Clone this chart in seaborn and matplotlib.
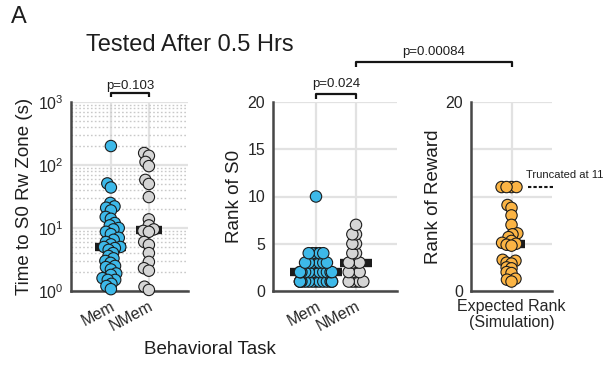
import numpy as np
import pandas as pd
import matplotlib
matplotlib.use("Agg")
import matplotlib.pyplot as plt
from matplotlib.lines import Line2D
from matplotlib.ticker import LogLocator, NullFormatter, FixedLocator
import seaborn as sns

# ---- data -------------------------------------------------------------
groups = ["Mem", "NMem"]

# latency to first entry into the S0 reward zone (s)
mem_time = [200, 51, 44, 25, 22, 21, 19, 15, 14, 12, 11, 10, 9.5, 8.7, 8.0,
            7.0, 6.5, 6.0, 5.5, 5.0, 5.0, 4.8, 4.5, 4.0, 3.6, 3.3, 3.0, 2.8,
            2.5, 2.4, 2.2, 1.9, 1.8, 1.6, 1.5, 1.5, 1.3, 1.2, 1.07]
nmem_time = [155, 140, 112, 96, 58, 50, 31, 13.7, 11, 9.5, 9.0, 8.7, 6.0,
             5.4, 4.0, 2.9, 2.3, 2.1, 1.17, 1.04]

# rank of the S0 zone among visited zones
mem_rank = [1, 1, 1, 1, 1, 1, 1, 1, 1, 1, 1, 1, 1, 1,
            2, 2, 2, 2, 2, 2, 2, 2, 2, 2, 2, 2,
            3, 3, 3, 3, 3, 3, 3,
            4, 4, 4, 4, 4,
            10]
nmem_rank = [1, 1, 1, 1, 1, 2, 2, 2, 2, 3, 3, 3, 3, 4, 4, 5, 5, 6, 6, 7]

# simulated expected rank of the reward zone (truncated at 11)
sim_label = "Expected Rank\n(Simulation)"
sim_rank = [11, 11, 11, 11, 9.1, 8.8, 8.0, 7.0, 6.1, 6.0, 5.7, 5.3, 5.1, 5.0,
            4.9, 4.8, 3.3, 3.2, 3.0, 2.9, 2.5, 2.4, 2.0, 1.9, 1.3, 1.2, 1.0]
trunc_value = 11

p_time = "p=0.103"
p_rank = "p=0.024"
p_sim = "p=0.00084"

# ---- style ------------------------------------------------------------
sns.set_style("white")
plt.rcParams["font.family"] = ["Liberation Sans", "DejaVu Sans"]
plt.rcParams["mathtext.fontset"] = "custom"
plt.rcParams["mathtext.rm"] = "Liberation Sans"
plt.rcParams["mathtext.it"] = "Liberation Sans:italic"
plt.rcParams["mathtext.bf"] = "Liberation Sans:bold"
plt.rcParams["text.color"] = "#1e1e1e"
plt.rcParams["axes.labelcolor"] = "#1e1e1e"

BLUE, GREY, ORANGE = "#3db9e9", "#d5d5d5", "#fbb444"
EDGE, EDGE_LW = "#1c1c1c", 0.8
MARK = 8.2           # drawn marker diameter (pt)
SPINE = "#474747"
GRID = "#e2e2e2"
TICK_FS = 11.5
LABEL_FS = 13.5
P_FS = 9.5

W, H = 608, 369
fig = plt.figure(figsize=(W / 100, H / 100), dpi=100)


def box(left, right, top=102, bottom=291):
    return [left / W, 1 - bottom / H, (right - left) / W, (bottom - top) / H]


ax1 = fig.add_axes(box(71, 188))
ax2 = fig.add_axes(box(273, 397))
ax3 = fig.add_axes(box(471, 552))

swarms = []


def swarm(ax, df, x, y, order, palette, layout_size):
    before = list(ax.collections)
    sns.swarmplot(data=df, x=x, y=y, order=order, hue=x, hue_order=order,
                  palette=palette, size=layout_size, linewidth=EDGE_LW,
                  edgecolor=EDGE, legend=False, ax=ax, zorder=3,
                  clip_on=False)
    swarms.extend(c for c in ax.collections if c not in before)


def median_bar(ax, pos, values, half):
    m = np.median(values)
    ax.plot([pos - half, pos + half], [m, m], color="#1c1c1c", lw=6,
            solid_capstyle="butt", zorder=2.8, clip_on=False)


def bracket(ax, x0, x1, y, leg, text, text_y):
    tr = ax.get_xaxis_transform()
    ax.plot([x0, x0, x1, x1], [y - leg, y, y, y - leg], transform=tr,
            clip_on=False, color="#151515", lw=1.6, solid_capstyle="butt")
    ax.text((x0 + x1) / 2, text_y, text, transform=tr, ha="center",
            va="baseline", fontsize=P_FS)


def style_axes(ax):
    for s in ("top", "right"):
        ax.spines[s].set_visible(False)
    for s in ("left", "bottom"):
        ax.spines[s].set_color(SPINE)
        ax.spines[s].set_linewidth(1.8)
    ax.tick_params(which="major", direction="out", length=3, width=1.5,
                   color=SPINE, labelsize=TICK_FS, pad=2.5)
    ax.set_axisbelow(True)
    ax.grid(True, which="major", color=GRID, lw=1.6)


# ---- panel 1: latency (log scale) ---------------------------------------
time_df = pd.DataFrame({
    "task": ["Mem"] * len(mem_time) + ["NMem"] * len(nmem_time),
    "time": mem_time + nmem_time,
})
ax1.set_yscale("log")
swarm(ax1, time_df, "task", "time", groups, {"Mem": BLUE, "NMem": GREY}, 3.0)
median_bar(ax1, 0, mem_time, 0.41)
median_bar(ax1, 1, nmem_time, 0.34)
style_axes(ax1)
ax1.set_ylim(1, 1000)
ax1.set_xlim(-1.05, 2.03)
ax1.yaxis.set_major_locator(LogLocator(base=10, numticks=10))
ax1.yaxis.set_minor_locator(LogLocator(base=10, subs=np.arange(2, 10),
                                       numticks=20))
ax1.yaxis.set_minor_formatter(NullFormatter())
ax1.yaxis.grid(True, which="minor", color="#c9c9c9", lw=1.0,
               ls=(0, (1.2, 1.6)))
ax1.tick_params(which="minor", direction="in", length=2, width=1,
                color=SPINE)
ax1.set_ylabel("Time to S0 Rw Zone (s)", fontsize=LABEL_FS, labelpad=3)
ax1.set_xlabel("")
ax1.set_xticks([0, 1])
ax1.set_xticklabels(groups, rotation=28, ha="right",
                    rotation_mode="anchor", fontsize=TICK_FS)
bracket(ax1, 0, 1, 1.048, 0.024, p_time, 1.071)

# ---- panel 2: rank of S0 -------------------------------------------------
rank_df = pd.DataFrame({
    "task": ["Mem"] * len(mem_rank) + ["NMem"] * len(nmem_rank),
    "rank": mem_rank + nmem_rank,
})
swarm(ax2, rank_df, "task", "rank", groups, {"Mem": BLUE, "NMem": GREY}, 1.7)
median_bar(ax2, 0, mem_rank, 0.65)
median_bar(ax2, 1, nmem_rank, 0.41)
style_axes(ax2)
ax2.set_ylim(0, 20)
ax2.set_xlim(-1.075, 2.025)
ax2.yaxis.set_major_locator(FixedLocator([0, 5, 10, 15, 20]))
ax2.set_ylabel("Rank of S0", fontsize=LABEL_FS, labelpad=3)
ax2.set_xlabel("")
ax2.set_xticks([0, 1])
ax2.set_xticklabels(groups, rotation=28, ha="right",
                    rotation_mode="anchor", fontsize=TICK_FS)
bracket(ax2, 0, 1, 1.040, 0.022, p_rank, 1.079)

# ---- panel 3: simulated expected rank -----------------------------------
sim_df = pd.DataFrame({"cond": [sim_label] * len(sim_rank), "rank": sim_rank})
swarm(ax3, sim_df, "cond", "rank", [sim_label], {sim_label: ORANGE}, 2.6)
median_bar(ax3, 0, sim_rank, 0.33)
style_axes(ax3)
ax3.set_ylim(0, 20)
ax3.set_xlim(-1, 1)
ax3.yaxis.set_major_locator(FixedLocator([0, 5, 10, 15, 20]))
ax3.set_yticklabels(["0", "", "", "", "20"])
ax3.set_ylabel("Rank of Reward", fontsize=LABEL_FS, labelpad=3)
ax3.set_xlabel("")
ax3.set_xticks([0])
ax3.set_xticklabels([sim_label], fontsize=TICK_FS, linespacing=1.1)
ax3.plot([0.40, 1.08], [trunc_value, trunc_value], color="#151515", lw=1.5,
         dashes=(1.6, 1.0), clip_on=False)
ax3.text(0.37, trunc_value + 1.3, f"Truncated at {trunc_value}", fontsize=8,
         ha="left", va="center", clip_on=False)

# ---- bracket spanning panels 2 and 3 -------------------------------------
fig.canvas.draw()
x_a = ax2.transData.transform((1, 0))[0] / fig.bbox.width
x_b = ax3.transData.transform((0, 0))[0] / fig.bbox.width
y_top, y_leg = 1 - 62 / H, 1 - 67 / H
fig.add_artist(Line2D([x_a, x_a, x_b, x_b], [y_leg, y_top, y_top, y_leg],
                      transform=fig.transFigure, color="#151515", lw=1.6,
                      solid_capstyle="butt"))
fig.text((x_a + x_b) / 2, 1 - 55 / H, p_sim, ha="center", va="baseline",
         fontsize=P_FS)

# ---- figure labels ------------------------------------------------------
fig.text(11 / W, 1 - 17 / H, "A", fontsize=17, va="center", ha="left")
fig.text(86 / W, 1 - 45 / H, "Tested After 0.5 Hrs", fontsize=17,
         va="center", ha="left")
fig.text(210 / W, 1 - 350 / H, "Behavioral Task", fontsize=LABEL_FS,
         va="center", ha="center")

# swarm offsets are fixed now; draw the markers at full size
for coll in swarms:
    if "draw" in vars(coll):
        del coll.draw
    coll.set_sizes([MARK ** 2])

fig.savefig("out.png", dpi=100)
